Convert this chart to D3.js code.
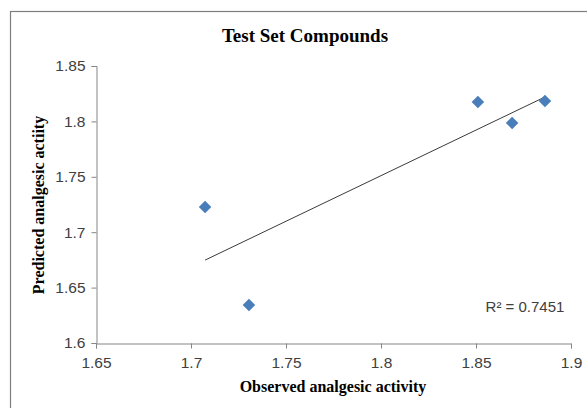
<!DOCTYPE html>
<html>
<head>
<meta charset="utf-8">
<script src="https://cdn.jsdelivr.net/npm/d3@7"></script>
<style>
  body { margin: 0; background: #fff; }
</style>
</head>
<body>
<svg></svg>
<script>
// размеры
const width = 587;
const height = 408;

// данные
const observed = [1.7074, 1.7305, 1.851, 1.869, 1.8863];
const predicted = [1.7227, 1.6343, 1.8175, 1.7986, 1.8184];
const xTicks = [1.65, 1.7, 1.75, 1.8, 1.85, 1.9];
const yTicks = [1.6, 1.65, 1.7, 1.75, 1.8, 1.85];
const r2Label = "R\u00b2 = 0.7451";

let svg = d3.select("svg")
    .attr("width", width)
    .attr("height", height);

// рамка диаграммы
svg.append("rect")
    .attr("x", 10.5).attr("y", 11.5)
    .attr("width", 600).attr("height", 420)
    .style("fill", "none").style("stroke", "#7f7f7f").style("stroke-width", 1.2);

const x = d3.scaleLinear().domain([1.65, 1.9]).range([96, 571]);
const y = d3.scaleLinear().domain([1.6, 1.85]).range([343, 66]);

// оси
let xAxis = svg.append("g")
    .attr("transform", "translate(0,343.5)")
    .call(d3.axisBottom(x).tickValues(xTicks).tickSize(5).tickPadding(5).tickFormat(d3.format("")));
let yAxis = svg.append("g")
    .attr("transform", "translate(96.5,0)")
    .call(d3.axisLeft(y).tickValues(yTicks).tickSize(5).tickPadding(6).tickFormat(d3.format("")));

[xAxis, yAxis].forEach(a => {
    a.selectAll("path, line").style("stroke", "#868686");
    a.selectAll("text")
        .style("font-family", "'Liberation Sans Narrow', 'Liberation Sans', sans-serif")
        .style("font-size", "15.5px")
        .style("fill", "#404040");
});
xAxis.selectAll("text").attr("dy", "0.95em");

// линия тренда (линейная регрессия)
const mx = d3.mean(observed), my = d3.mean(predicted);
const slope = d3.sum(observed, (d, i) => (d - mx) * (predicted[i] - my)) / d3.sum(observed, d => (d - mx) * (d - mx));
const x0 = d3.min(observed), x1 = d3.max(observed);
svg.append("line")
    .attr("x1", x(x0)).attr("y1", y(my + slope * (x0 - mx)))
    .attr("x2", x(x1)).attr("y2", y(my + slope * (x1 - mx)))
    .style("stroke", "#3a3a3a").style("stroke-width", 1);

// точки
const diamond = d3.symbol().type(d3.symbolDiamond2).size(100);
svg.append("g").selectAll("path")
    .data(observed)
    .join("path")
    .attr("d", diamond)
    .attr("transform", (d, i) => `translate(${x(d)},${y(predicted[i])})`)
    .style("fill", "#4a7ebb");

// подписи
svg.append("text")
    .attr("x", 305).attr("y", 42)
    .attr("text-anchor", "middle")
    .style("font-family", "'Liberation Serif', serif")
    .style("font-weight", "bold").style("font-size", "19px")
    .text("Test Set Compounds");

svg.append("text")
    .attr("x", 333).attr("y", 392)
    .attr("text-anchor", "middle")
    .style("font-family", "'Liberation Serif', serif")
    .style("font-weight", "bold").style("font-size", "16px")
    .text("Observed analgesic activity");

svg.append("text")
    .attr("transform", "translate(44,205) rotate(-90)")
    .attr("text-anchor", "middle")
    .style("font-family", "'Liberation Serif', serif")
    .style("font-weight", "bold").style("font-size", "16px")
    .text("Predicted analgesic actiity");

svg.append("text")
    .attr("x", 525).attr("y", 312)
    .attr("text-anchor", "middle")
    .style("font-family", "'Liberation Sans Narrow', 'Liberation Sans', sans-serif")
    .style("font-size", "15px")
    .style("fill", "#404040")
    .text(r2Label);
</script>
</body>
</html>
